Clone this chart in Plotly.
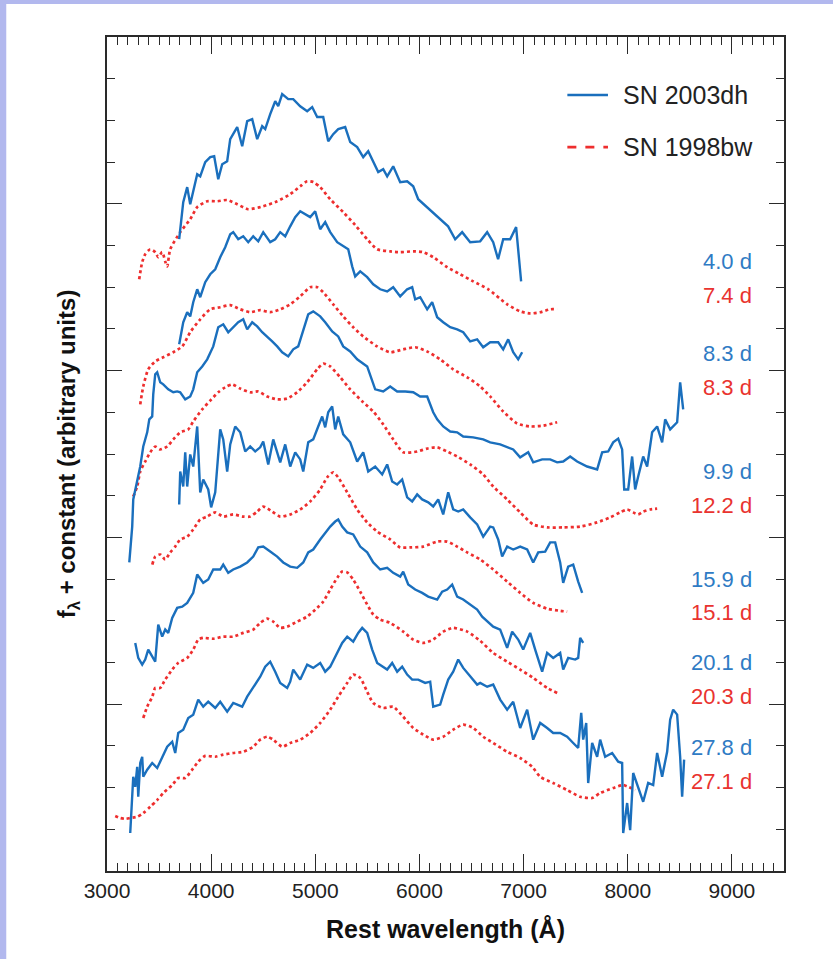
import plotly.graph_objects as go

# ---------------- data (rest wavelength in Angstrom, flux + constant, arbitrary units) -------------
# SN 2003dh, 4.0 d
wl_dh_40 = [3693, 3732, 3770, 3799, 3866, 3895, 3943, 3991, 4029, 4068, 4106, 4154, 4183, 4250, 4298,
            4346, 4394, 4442, 4490, 4519, 4567, 4615, 4644, 4682, 4740, 4788, 4855, 4922, 4970, 5018,
            5076, 5124, 5172, 5220, 5287, 5335, 5402, 5460, 5508, 5556, 5604, 5652, 5690, 5748, 5815,
            5882, 5940, 5988, 6275, 6343, 6410, 6487, 6583, 6650, 6708, 6755, 6804, 6871, 6928, 6976]
fl_dh_40 = [15.15, 16.04, 16.40, 15.99, 16.71, 16.66, 17.00, 17.12, 17.14, 16.59, 16.95, 17.02, 17.55, 17.84, 17.38,
            17.98, 18.03, 17.55, 17.86, 17.79, 18.15, 18.46, 18.34, 18.63, 18.51, 18.51, 18.34, 18.22, 18.32, 18.08,
            18.08, 17.50, 17.67, 17.79, 17.84, 17.48, 17.36, 17.12, 17.26, 17.00, 16.76, 16.83, 16.66, 16.90, 16.52,
            16.54, 16.42, 16.11, 15.46, 15.15, 15.32, 15.08, 15.10, 15.32, 15.08, 14.67, 15.15, 15.15, 15.44, 14.14]

# SN 1998bw, 7.4 d
wl_bw_74 = [3309, 3338, 3367, 3415, 3463, 3492, 3530, 3559, 3578, 3607, 3703, 3799, 3866, 3962, 4058,
            4154, 4250, 4355, 4500, 4634, 4759, 4855, 4922, 4980, 5047, 5143, 5268, 5383, 5498, 5594,
            5719, 5815, 5940, 6036, 6132, 6266, 6391, 6516, 6660, 6842, 6967, 7063, 7159, 7255, 7322]
fl_bw_74 = [14.19, 14.60, 14.79, 14.91, 14.84, 14.72, 14.84, 14.62, 14.50, 14.91, 15.32, 15.63, 15.92, 16.06, 16.06,
            16.09, 15.99, 15.87, 15.94, 16.06, 16.23, 16.42, 16.54, 16.52, 16.40, 16.11, 15.80, 15.49, 15.15, 14.91,
            14.86, 14.84, 14.86, 14.84, 14.72, 14.48, 14.31, 14.14, 13.95, 13.59, 13.42, 13.37, 13.40, 13.47, 13.47]

# SN 2003dh, 8.3 d
wl_dh_83 = [3693, 3732, 3770, 3799, 3828, 3866, 3895, 3943, 3991, 4039, 4087, 4135, 4183, 4212, 4260,
            4308, 4356, 4404, 4452, 4500, 4567, 4615, 4663, 4711, 4759, 4807, 4855, 4903, 4951, 4999,
            5047, 5095, 5143, 5210, 5268, 5316, 5354, 5383, 5431, 5498, 5556, 5623, 5690, 5748, 5815,
            5882, 5930, 5959, 6007, 6074, 6122, 6170, 6228, 6295, 6362, 6420, 6487, 6554, 6612, 6679,
            6756, 6804, 6852, 6900, 6948, 6986]
fl_dh_83 = [12.63, 13.16, 13.40, 13.30, 13.64, 13.95, 13.76, 14.12, 14.31, 14.43, 14.72, 14.96, 15.27, 15.32, 15.15,
            15.22, 15.08, 15.22, 15.10, 15.32, 15.08, 15.15, 15.32, 15.22, 15.46, 15.68, 15.82, 15.75, 15.68, 15.82,
            15.39, 15.56, 15.32, 15.08, 14.98, 14.91, 14.50, 14.26, 14.38, 14.24, 14.07, 13.95, 13.90, 14.00, 13.78,
            13.95, 14.00, 13.71, 13.76, 13.47, 13.64, 13.28, 13.16, 13.04, 12.99, 12.92, 12.70, 12.75, 12.56, 12.68,
            12.68, 12.51, 12.75, 12.44, 12.27, 12.44]

# SN 1998bw, 8.3 d
wl_bw_83 = [3319, 3348, 3396, 3463, 3540, 3636, 3722, 3799, 3895, 3991, 4087, 4183, 4279, 4375, 4471,
            4567, 4663, 4759, 4855, 4951, 5018, 5076, 5172, 5268, 5364, 5460, 5594, 5719, 5844, 5959,
            6074, 6199, 6324, 6458, 6583, 6679, 6804, 6938, 7063, 7188, 7322]
fl_bw_83 = [11.19, 11.62, 12.03, 12.22, 12.32, 12.44, 12.58, 12.92, 13.23, 13.47, 13.52, 13.57, 13.47, 13.40, 13.45,
            13.40, 13.47, 13.59, 13.78, 14.00, 14.00, 13.88, 13.59, 13.30, 13.04, 12.82, 12.58, 12.44, 12.51, 12.56,
            12.46, 12.27, 12.03, 11.84, 11.62, 11.38, 11.02, 10.73, 10.66, 10.68, 10.76]

# SN 2003dh, 9.9 d
wl_dh_99 = [3214, 3242, 3252, 3290, 3319, 3348, 3386, 3406, 3434, 3444, 3463, 3482, 3511, 3540, 3588,
            3636, 3674, 3703, 3751, 3799, 3828, 3866, 3914, 3962, 4020, 4068, 4116, 4164, 4212, 4260,
            4308, 4346, 4394, 4442, 4490, 4538, 4586, 4634, 4682, 4740, 4788, 4836, 4884, 4932, 4980,
            5047, 5095, 5162, 5220, 5268, 5335, 5402, 5498, 5575, 5652, 5719, 5786, 5863, 5940, 6007,
            6074, 6132, 6170, 6228, 6295, 6362, 6420, 6516, 6612, 6679, 6775, 6842, 6900, 6967, 7044,
            7092, 7178, 7255, 7322, 7380, 7447, 7514, 7610, 7706, 7754, 7812, 7860, 7908, 7946, 7966,
            8004, 8042, 8071, 8100, 8148, 8186, 8234, 8282, 8330, 8359, 8407, 8474, 8503, 8532]
fl_dh_99 = [7.40, 8.26, 8.91, 9.32, 9.70, 10.18, 10.52, 10.83, 10.90, 11.43, 11.91, 11.96, 11.72, 11.67, 11.55,
            11.48, 11.50, 11.48, 11.31, 11.38, 11.55, 11.96, 12.10, 12.27, 12.58, 13.04, 13.11, 12.92, 13.04, 13.16,
            13.23, 12.99, 13.16, 13.06, 12.92, 12.82, 12.70, 12.58, 12.44, 12.34, 12.51, 12.58, 12.94, 13.35, 13.42,
            13.30, 13.16, 12.94, 12.82, 12.58, 12.46, 12.27, 12.10, 11.55, 11.50, 11.62, 11.50, 11.50, 11.48, 11.38,
            11.38, 11.00, 10.83, 10.66, 10.54, 10.52, 10.42, 10.40, 10.35, 10.28, 10.23, 10.16, 10.11, 9.92, 10.04,
            9.80, 9.87, 9.87, 9.80, 9.82, 9.94, 9.82, 9.70, 9.63, 10.04, 10.06, 10.28, 10.37, 10.11, 9.15,
            9.15, 9.94, 9.15, 9.46, 9.94, 9.70, 10.52, 10.66, 10.28, 10.83, 10.59, 10.76, 11.72, 11.07]

# SN 1998bw, 12.2 d
wl_bw_122 = [3252, 3290, 3319, 3367, 3415, 3463, 3511, 3578, 3636, 3703, 3780, 3828, 3914, 3991, 4068,
             4135, 4202, 4279, 4375, 4452, 4538, 4634, 4730, 4826, 4922, 5018, 5076, 5143, 5239, 5335,
             5460, 5556, 5652, 5748, 5844, 5978, 6074, 6170, 6266, 6362, 6487, 6612, 6708, 6842, 6967,
             7092, 7226, 7380, 7543, 7706, 7831, 7927, 7994, 8052, 8100, 8148, 8215, 8282]
fl_bw_122 = [8.98, 9.22, 9.58, 9.82, 10.04, 10.18, 10.11, 10.18, 10.35, 10.52, 10.59, 10.78, 11.07, 11.28, 11.48,
             11.60, 11.67, 11.57, 11.48, 11.50, 11.38, 11.31, 11.33, 11.48, 11.72, 12.03, 12.17, 12.10, 11.84, 11.55,
             11.24, 11.02, 10.71, 10.35, 10.04, 10.06, 10.13, 10.16, 10.06, 9.94, 9.75, 9.51, 9.22, 8.91, 8.60,
             8.31, 8.24, 8.24, 8.26, 8.36, 8.48, 8.60, 8.67, 8.60, 8.55, 8.62, 8.67, 8.69]

# SN 2003dh, 15.9 d
wl_dh_159 = [3693, 3703, 3732, 3751, 3770, 3799, 3828, 3866, 3895, 3924, 3972, 4000, 4039, 4087, 4116,
             4154, 4183, 4231, 4279, 4327, 4375, 4423, 4471, 4500, 4548, 4596, 4663, 4711, 4759, 4807,
             4855, 4884, 4932, 4980, 5028, 5066, 5095, 5124, 5162, 5191, 5220, 5268, 5335, 5402, 5460,
             5508, 5575, 5642, 5690, 5738, 5786, 5834, 5882, 5930, 5978, 6026, 6084, 6132, 6180, 6228,
             6276, 6324, 6372, 6420, 6487, 6554, 6612, 6679, 6708, 6756, 6794, 6842, 6900, 6967, 7034,
             7092, 7140, 7207, 7255, 7303, 7351, 7380, 7428, 7476, 7524, 7562]
fl_dh_159 = [8.79, 9.58, 9.22, 10.04, 9.22, 9.99, 9.70, 10.66, 9.08, 9.39, 9.15, 8.72, 9.08, 10.59, 10.35,
             9.58, 10.23, 10.66, 10.52, 10.06, 10.18, 10.06, 10.16, 10.30, 9.75, 10.35, 9.80, 10.23, 9.70, 10.04,
             9.87, 9.58, 10.28, 10.35, 10.66, 10.90, 10.64, 11.00, 11.14, 10.59, 10.90, 10.47, 10.28, 9.82, 10.04,
             9.58, 9.70, 9.51, 9.75, 9.34, 9.27, 9.39, 8.96, 8.86, 9.03, 8.91, 8.84, 8.74, 8.91, 8.55,
             9.08, 8.67, 8.62, 8.67, 8.48, 8.31, 8.02, 8.26, 8.24, 7.95, 7.54, 7.78, 7.71, 7.78, 7.71,
             7.40, 7.64, 7.66, 7.88, 7.88, 7.40, 6.91, 7.30, 7.35, 6.94, 6.67]

# SN 1998bw, 15.1 d
wl_bw_151 = [3435, 3463, 3511, 3559, 3607, 3655, 3703, 3770, 3828, 3895, 3962, 4039, 4116, 4212, 4308,
             4375, 4442, 4500, 4586, 4663, 4759, 4855, 4951, 5047, 5114, 5172, 5220, 5306, 5402, 5498,
             5594, 5719, 5815, 5911, 6036, 6170, 6266, 6362, 6458, 6583, 6708, 6842, 6967, 7092, 7226,
             7351, 7418]
fl_bw_151 = [7.35, 7.54, 7.59, 7.47, 7.64, 7.78, 7.95, 8.02, 8.19, 8.43, 8.50, 8.60, 8.50, 8.55, 8.50,
             8.50, 8.62, 8.74, 8.62, 8.50, 8.55, 8.67, 8.86, 9.15, 9.44, 9.56, 9.44, 9.08, 8.67, 8.36,
             8.14, 7.95, 7.76, 7.76, 7.78, 7.90, 7.90, 7.78, 7.64, 7.47, 7.23, 6.94, 6.67, 6.43, 6.29,
             6.24, 6.22]

# SN 2003dh, 20.1 d
wl_dh_201 = [3271, 3300, 3338, 3367, 3396, 3434, 3463, 3492, 3530, 3559, 3588, 3626, 3674, 3722, 3770,
             3828, 3866, 3924, 3972, 4020, 4087, 4116, 4164, 4212, 4279, 4346, 4404, 4452, 4500, 4567,
             4634, 4692, 4759, 4826, 4884, 4932, 4980, 5047, 5095, 5143, 5191, 5220, 5258, 5306, 5364,
             5431, 5498, 5556, 5623, 5690, 5748, 5815, 5844, 5892, 5959, 6026, 6084, 6170, 6218, 6266,
             6314, 6362, 6420, 6487, 6554, 6602, 6650, 6708, 6775, 6842, 6890, 6948, 6996, 7063, 7111,
             7178, 7226, 7284, 7351, 7380, 7428, 7495, 7524, 7543, 7572]
fl_dh_201 = [5.47, 5.11, 4.95, 5.07, 5.31, 5.14, 5.02, 5.91, 5.62, 5.79, 5.71, 6.07, 6.31, 6.34, 6.43,
             6.67, 7.11, 6.91, 6.99, 7.23, 7.23, 7.35, 7.15, 7.23, 7.30, 7.40, 7.54, 7.76, 7.78, 7.66,
             7.54, 7.40, 7.30, 7.27, 7.40, 7.64, 7.71, 7.95, 8.12, 8.26, 8.38, 8.43, 8.26, 8.12, 8.07,
             7.78, 7.64, 7.40, 7.23, 7.27, 7.15, 7.06, 7.18, 6.87, 6.75, 6.67, 6.58, 6.51, 6.70, 6.75,
             6.87, 6.58, 6.51, 6.39, 6.27, 6.10, 5.98, 5.86, 5.79, 5.35, 5.74, 5.55, 5.31, 5.71, 5.31,
             4.78, 5.23, 5.11, 5.23, 4.83, 5.11, 5.07, 5.11, 5.59, 5.47]

# SN 1998bw, 20.3 d
wl_bw_203 = [3348, 3386, 3435, 3463, 3511, 3559, 3626, 3684, 3770, 3828, 3876, 3924, 4020, 4116, 4212,
             4308, 4404, 4471, 4538, 4596, 4663, 4730, 4826, 4922, 5018, 5076, 5143, 5210, 5258, 5306,
             5364, 5431, 5498, 5556, 5623, 5719, 5844, 5940, 6036, 6132, 6228, 6324, 6458, 6583, 6708,
             6842, 6967, 7092, 7226, 7322]
fl_bw_203 = [3.67, 3.94, 4.18, 4.39, 4.39, 4.59, 4.83, 4.99, 5.11, 5.31, 5.55, 5.59, 5.57, 5.62, 5.62,
             5.71, 5.79, 5.95, 6.05, 5.98, 5.83, 5.86, 5.98, 6.10, 6.31, 6.46, 6.75, 7.03, 7.18, 7.16,
             6.99, 6.70, 6.39, 6.15, 6.03, 5.95, 5.74, 5.55, 5.47, 5.55, 5.74, 5.83, 5.74, 5.52, 5.23,
             5.02, 4.83, 4.63, 4.39, 4.27]

# SN 2003dh, 27.8 d
wl_dh_278 = [3223, 3243, 3252, 3271, 3290, 3300, 3319, 3338, 3348, 3386, 3434, 3482, 3530, 3578, 3626,
             3655, 3684, 3732, 3780, 3828, 3876, 3924, 3972, 4039, 4087, 4154, 4212, 4298, 4346, 4404,
             4471, 4519, 4567, 4615, 4663, 4730, 4759, 4788, 4855, 4922, 4980, 5047, 5095, 5143, 5210,
             5258, 5306, 5364, 5412, 5450, 5498, 5546, 5594, 5642, 5690, 5738, 5786, 5834, 5882, 5930,
             5988, 6055, 6103, 6132, 6199, 6228, 6276, 6324, 6372, 6420, 6487, 6554, 6583, 6650, 6708,
             6775, 6842, 6900, 6967, 7034, 7092, 7159, 7226, 7284, 7351, 7418, 7476, 7524, 7553, 7572,
             7601, 7620, 7658, 7706, 7735, 7783, 7850, 7908, 7946, 7956, 7994, 8023, 8052, 8100, 8148,
             8196, 8244, 8282, 8330, 8378, 8407, 8436, 8474, 8503, 8522, 8541]
fl_dh_278 = [0.91, 1.70, 2.26, 2.02, 2.50, 1.78, 2.59, 2.74, 2.26, 2.43, 2.59, 2.47, 2.74, 2.98, 3.10,
             2.83, 3.31, 3.39, 3.67, 3.75, 4.11, 3.94, 4.06, 3.91, 4.06, 3.82, 4.03, 3.94, 4.18, 4.39,
             4.66, 4.90, 5.02, 4.78, 4.51, 4.39, 4.54, 4.83, 4.59, 4.95, 4.87, 4.99, 4.78, 4.90, 5.23,
             5.47, 5.62, 5.50, 5.71, 5.83, 5.71, 5.31, 4.99, 4.90, 4.83, 4.99, 4.78, 4.90, 4.71, 4.59,
             4.59, 4.51, 4.54, 3.94, 3.99, 4.23, 4.59, 4.78, 5.07, 4.87, 4.66, 4.47, 4.51, 4.42, 4.47,
             4.11, 3.87, 4.06, 3.43, 3.87, 3.15, 3.55, 3.43, 3.31, 3.31, 3.22, 3.07, 2.95, 3.79, 3.15,
             3.55, 2.11, 3.07, 2.74, 3.15, 2.74, 2.83, 2.62, 2.59, 0.91, 1.63, 0.98, 2.35, 2.02, 1.66,
             2.11, 2.06, 2.83, 2.26, 2.86, 3.63, 3.87, 3.75, 2.74, 1.78, 2.67]

# SN 1998bw, 27.1 d
wl_bw_271 = [3079, 3127, 3175, 3223, 3290, 3348, 3415, 3482, 3540, 3626, 3684, 3751, 3818, 3876, 3943,
             4039, 4116, 4212, 4308, 4404, 4471, 4538, 4596, 4682, 4759, 4855, 4951, 5047, 5143, 5220,
             5306, 5364, 5431, 5498, 5556, 5652, 5748, 5844, 5940, 6036, 6132, 6228, 6324, 6420, 6516,
             6612, 6708, 6842, 6967, 7082, 7159, 7284, 7418, 7543, 7658, 7735, 7860, 7956, 8071]
fl_bw_271 = [1.32, 1.27, 1.25, 1.27, 1.30, 1.39, 1.54, 1.70, 1.87, 2.06, 2.23, 2.23, 2.43, 2.62, 2.76,
             2.74, 2.79, 2.83, 2.86, 2.98, 3.15, 3.22, 3.15, 2.98, 3.07, 3.15, 3.31, 3.55, 3.87, 4.18,
             4.51, 4.71, 4.63, 4.30, 4.03, 3.91, 3.94, 3.70, 3.43, 3.27, 3.15, 3.22, 3.39, 3.51, 3.43,
             3.22, 3.07, 2.86, 2.71, 2.50, 2.26, 2.11, 1.94, 1.78, 1.75, 1.87, 1.99, 2.06, 1.94]

# epoch labels (text, colour series, vertical position in flux units)
epoch_text = ["4.0 d", "7.4 d", "8.3 d", "8.3 d", "9.9 d", "12.2 d",
              "15.9 d", "15.1 d", "20.1 d", "20.3 d", "27.8 d", "27.1 d"]
epoch_series = ["dh", "bw", "dh", "bw", "dh", "bw", "dh", "bw", "dh", "bw", "dh", "bw"]
epoch_y = [14.62, 13.81, 12.41, 11.60, 9.58, 8.76, 6.99, 6.19, 4.99, 4.18, 2.95, 2.14]

legend_names = ["SN 2003dh", "SN 1998bw"]
x_tickvals = [3000, 4000, 5000, 6000, 7000, 8000, 9000]

BLUE = "#1a6fbd"
RED = "#ee2e2e"
BLUE_TXT = "#2f7bc4"
RED_TXT = "#e9332f"
AX = "#2a2a2a"
FONT = "Liberation Sans, Arial, Helvetica, sans-serif"

fig = go.Figure()

dh_sets = [(wl_dh_40, fl_dh_40), (wl_dh_83, fl_dh_83), (wl_dh_99, fl_dh_99),
           (wl_dh_159, fl_dh_159), (wl_dh_201, fl_dh_201), (wl_dh_278, fl_dh_278)]
bw_sets = [(wl_bw_74, fl_bw_74), (wl_bw_83, fl_bw_83), (wl_bw_122, fl_bw_122),
           (wl_bw_151, fl_bw_151), (wl_bw_203, fl_bw_203), (wl_bw_271, fl_bw_271)]

for wl, fl in bw_sets:
    fig.add_trace(go.Scatter(x=wl, y=fl, mode="lines", showlegend=False, hoverinfo="skip",
                             line=dict(color=RED, width=2.7, dash="dot", shape="spline", smoothing=0.6)))
for wl, fl in dh_sets:
    fig.add_trace(go.Scatter(x=wl, y=fl, mode="lines", showlegend=False, hoverinfo="skip",
                             line=dict(color=BLUE, width=2.4)))

# legend (drawn manually to match the original key)
leg_y = [18.61, 17.36]
leg_col = [BLUE, RED]
leg_dash = ["solid", "dash"]
for name, yv, col, dsh in zip(legend_names, leg_y, leg_col, leg_dash):
    fig.add_shape(type="line", xref="x", yref="y", x0=7420, x1=7810, y0=yv, y1=yv,
                  line=dict(color=col, width=2.6, dash=dsh))
    fig.add_annotation(x=7935, y=yv, xref="x", yref="y", text=name, showarrow=False,
                       xanchor="left", yanchor="middle", font=dict(family=FONT, size=25, color="#222"))

for txt, ser, yv in zip(epoch_text, epoch_series, epoch_y):
    fig.add_annotation(x=9210, y=yv, xref="x", yref="y", text=txt, showarrow=False,
                       xanchor="right", yanchor="middle",
                       font=dict(family=FONT, size=22, color=BLUE_TXT if ser == "dh" else RED_TXT))

# lavender page border (top and left)
fig.add_shape(type="rect", xref="paper", yref="paper", x0=-0.16, x1=-0.1488, y0=-0.11, y1=1.05,
              line=dict(width=0), fillcolor="#b2b8ee", layer="below")
fig.add_shape(type="rect", xref="paper", yref="paper", x0=-0.16, x1=1.08, y0=1.0396, y1=1.05,
              line=dict(width=0), fillcolor="#b2b8ee", layer="below")

fig.update_layout(
    width=833, height=959,
    margin=dict(l=107, r=49, t=37, b=88),
    paper_bgcolor="white", plot_bgcolor="white",
    showlegend=False,
    font=dict(family=FONT, color="#222"),
    xaxis=dict(range=[3000, 9500], tickvals=x_tickvals, ticks="inside", ticklen=17, tickwidth=1.3,
               tickcolor=AX, showline=True, linewidth=1.6, linecolor=AX, mirror="ticks",
               showgrid=False, zeroline=False, tickfont=dict(family=FONT, size=21, color="#222"),
               title=dict(text="<b>Rest wavelength (Å)</b>", standoff=19,
                          font=dict(family=FONT, size=25, color="#111")),
               minor=dict(dtick=100, tick0=3000, ticks="inside", ticklen=8, tickwidth=1.2, tickcolor=AX,
                          showgrid=False)),
    yaxis=dict(range=[0, 20], tick0=0, dtick=4, ticks="inside", ticklen=15, tickwidth=1.4,
               tickcolor=AX, showline=True, linewidth=1.6, linecolor=AX, mirror="ticks",
               showgrid=False, zeroline=False, showticklabels=False,
               title=dict(text="<b>f<sub>λ</sub> + constant (arbitrary units)</b>", standoff=23,
                          font=dict(family=FONT, size=24, color="#111")),
               minor=dict(dtick=1, tick0=0, ticks="inside", ticklen=8, tickwidth=1.3, tickcolor=AX,
                          showgrid=False)),
)

fig.write_html("out.html")
